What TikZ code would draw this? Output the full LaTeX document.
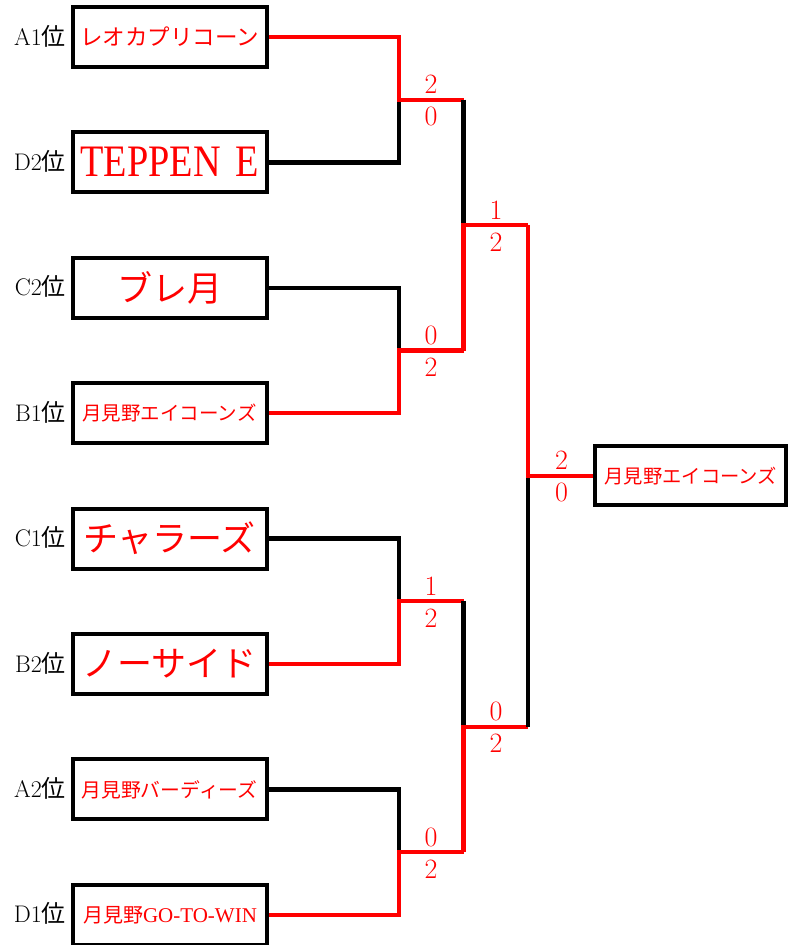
\documentclass[tikz,border=0pt]{standalone}
\usepackage{fontspec}
\newfontfamily\jp{Noto Sans CJK JP}
\newfontfamily\tms{Liberation Serif}
\newfontfamily\tmsn[FakeStretch=0.85]{Liberation Serif}
\begin{document}
\begin{tikzpicture}[x=1pt,y=-1pt,
  team/.style={draw=black, line width=4pt, minimum width=194pt, minimum height=60pt, inner sep=0pt, text=red},
  champbox/.style={draw=black, line width=4pt, minimum width=191pt, minimum height=59pt, inner sep=0pt, text=red},
  seed/.style={anchor=base east, inner sep=0pt, font=\fontsize{24}{26}\selectfont},
  score/.style={anchor=base, inner sep=0pt, text=red, font=\fontsize{28}{29}\selectfont},
  win/.style={draw=red, line width=4.3pt},
  lose/.style={draw=black, line width=4.3pt}]
\useasboundingbox (0,0) rectangle (790,945);
\fill[white] (0,0) rectangle (790,945);

% teams
\node[team, font=\fontsize{22.5}{24}\jp] (t1) at (169.5,37) {レオカプリコーン};
\node[team, font=\fontsize{45}{46}\tmsn] (t2) at (169.5,162.4) {\raisebox{2pt}{TEPPEN\hspace{5pt} E}};
\node[team, font=\fontsize{35}{36}\jp] (t3) at (169.5,287.8) {ブレ月};
\node[team, font=\fontsize{19.5}{21}\jp] (t4) at (169.5,413.2) {月見野エイコーンズ};
\node[team, font=\fontsize{35}{36}\jp] (t5) at (169.5,538.6) {チャラーズ};
\node[team, font=\fontsize{35}{36}\jp] (t6) at (169.5,664) {ノーサイド};
\node[team, font=\fontsize{19.8}{21}\jp] (t7) at (169.5,789.4) {月見野バーディーズ};
\node[team, font=\fontsize{20}{21}\jp] (t8) at (170,914.8) {月見野{\fontsize{21}{22}\tms GO-TO-WIN}};
\node[champbox, font=\fontsize{19.3}{21}\jp] (ch) at (690.8,475.8) {月見野エイコーンズ};

% seeds
\node[seed] (s1l) at (66,45) {A1{\jp 位}};
\node[seed] (s2l) at (66,170.4) {D2{\jp 位}};
\node[seed] (s3l) at (66,295.8) {C2{\jp 位}};
\node[seed] (s4l) at (66,421.2) {B1{\jp 位}};
\node[seed] (s5l) at (66,546.6) {C1{\jp 位}};
\node[seed] (s6l) at (66,672) {B2{\jp 位}};
\node[seed] (s7l) at (66,797.4) {A2{\jp 位}};
\node[seed] (s8l) at (66,922.8) {D1{\jp 位}};

% junctions
\coordinate (m1) at (399,99.7);
\coordinate (m2) at (399,350.5);
\coordinate (m3) at (399,601.3);
\coordinate (m4) at (399,852.1);
\coordinate (s1) at (463.5,225.1);
\coordinate (s2) at (463.5,726.7);
\coordinate (f) at (528,475.8);

% first round
\draw[lose] (t2.east) -| (m1);
\draw[win] (t1.east) -| (m1) -- (m1 -| s1);
\draw[lose] (t3.east) -| (m2);
\draw[win] (t4.east) -| (m2) -- (m2 -| s1);
\draw[lose] (t5.east) -| (m3);
\draw[win] (t6.east) -| (m3) -- (m3 -| s2);
\draw[lose] (t7.east) -| (m4);
\draw[win] (t8.east) -| (m4) -- (m4 -| s2);

% semifinals
\draw[lose] (m1 -| s1) -- (s1);
\draw[win] (m2 -| s1) -- (s1) -- (s1 -| f);
\draw[lose] (m3 -| s2) -- (s2);
\draw[win] (m4 -| s2) -- (s2) -- (s2 -| f);

% final
\draw[lose] (s2 -| f) -- (f);
\draw[win] (s1 -| f) -- (f) -- (ch.west);

% scores
\node[score] (a1) at (431,93.7) {2};
\node[score] (b1) at (431,125.7) {0};
\node[score] (a2) at (431,344.5) {0};
\node[score] (b2) at (431,376.5) {2};
\node[score] (a3) at (431,595.3) {1};
\node[score] (b3) at (431,627.3) {2};
\node[score] (a4) at (431,846.1) {0};
\node[score] (b4) at (431,878.1) {2};
\node[score] (a5) at (496,219.1) {1};
\node[score] (b5) at (496,251.1) {2};
\node[score] (a6) at (496,720.7) {0};
\node[score] (b6) at (496,752.7) {2};
\node[score] (a7) at (561.5,469.8) {2};
\node[score] (b7) at (561.5,501.8) {0};
\end{tikzpicture}
\end{document}
